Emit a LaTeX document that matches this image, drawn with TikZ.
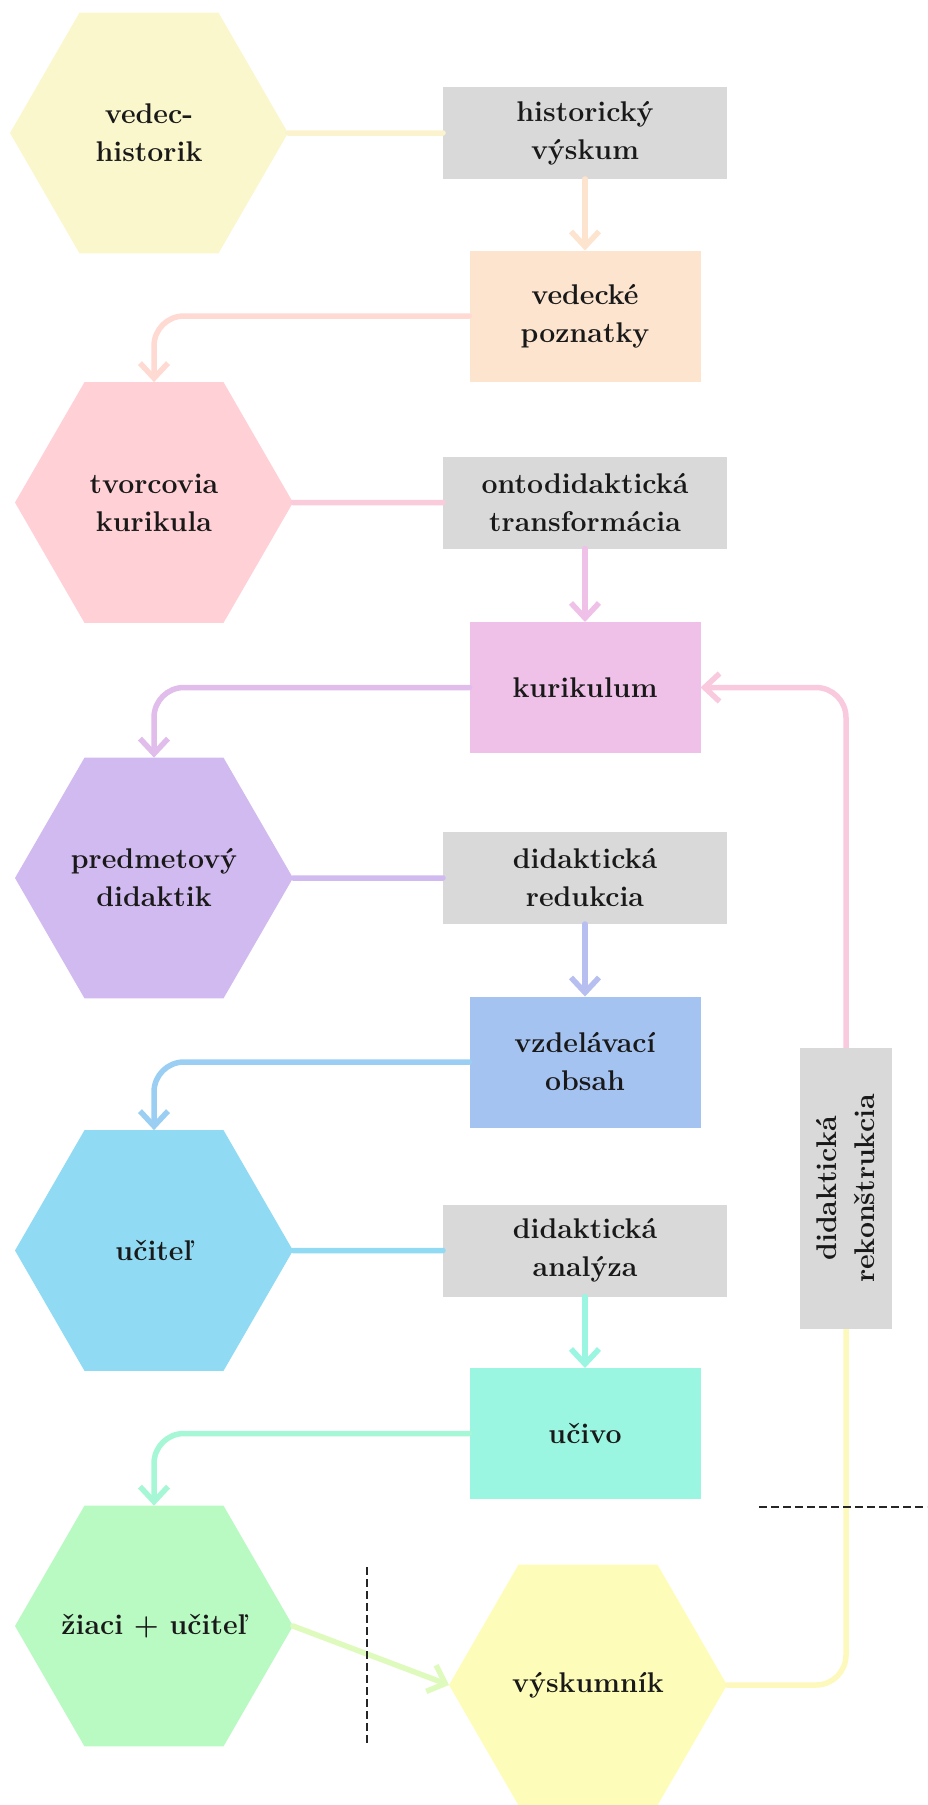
\documentclass[tikz,border=0pt]{standalone}
\usepackage{tikz}
\usetikzlibrary{arrows.meta,shapes.geometric}

\definecolor{greybox}{HTML}{D9D9D9}
\definecolor{hexyellow}{HTML}{FAF7CD}
\definecolor{hexrose}{HTML}{FFD0D5}
\definecolor{hexlilac}{HTML}{D1BAEF}
\definecolor{hexsky}{HTML}{90DAF4}
\definecolor{hexmint}{HTML}{B9F9C2}
\definecolor{hexlemon}{HTML}{FDFDB9}
\definecolor{boxpeach}{HTML}{FCE4CF}
\definecolor{boxorchid}{HTML}{EFC1E8}
\definecolor{boxblue}{HTML}{A5C3F1}
\definecolor{boxaqua}{HTML}{9AF5E1}

\tikzset{
  hexa/.style={regular polygon, regular polygon sides=6, minimum size=278pt,
    inner sep=-60pt, outer sep=0pt, fill=#1},
  greyblock/.style={rectangle, fill=greybox, minimum width=284pt,
    minimum height=92pt, inner sep=0pt, outer sep=0pt},
  colblock/.style={rectangle, fill=#1, minimum width=231pt,
    minimum height=131pt, inner sep=0pt, outer sep=0pt},
  link/.style={line width=5.5pt, draw=#1, line cap=round},
  arrowlink/.style={link=#1, -{Straight Barb[length=15pt,width=28pt]},
    rounded corners=30pt},
  cutline/.style={line width=2pt, dash pattern=on 8pt off 4pt, draw=black!85}
}

\begin{document}
\begin{tikzpicture}[x=1pt,y=-1pt,
  every node/.style={font=\bfseries\fontsize{28.5}{38}\selectfont,
    align=center, text=black!90}]

\useasboundingbox (0,0) rectangle (927,1805);

% left column
\node[hexa=hexyellow] (vedec) at (149,133) {vedec-\\historik};
\node[hexa=hexrose] (tvor) at (154,502.5) {tvorcovia\\kurikula};
\node[hexa=hexlilac] (pred) at (154,878) {predmetový\\didaktik};
\node[hexa=hexsky] (ucitel) at (154,1250.5) {učiteľ};
\node[hexa=hexmint] (ziaci) at (154,1626) {žiaci + učiteľ};
\node[hexa=hexlemon] (vysk) at (588,1685) {výskumník};

% middle column
\node[greyblock] (hist) at (585,133) {historický\\výskum};
\node[colblock=boxpeach] (pozn) at (585,316) {vedecké\\poznatky};
\node[greyblock] (onto) at (585,502.5) {ontodidaktická\\transformácia};
\node[colblock=boxorchid] (kuri) at (585,687.5) {kurikulum};
\node[greyblock] (redu) at (585,878) {didaktická\\redukcia};
\node[colblock=boxblue] (obsah) at (585,1062) {vzdelávací\\obsah};
\node[greyblock] (anal) at (585,1250.5) {didaktická\\analýza};
\node[colblock=boxaqua] (ucivo) at (585,1433.5) {učivo};

% links
\draw[link=hexyellow!80!boxpeach] (vedec.east) -- (hist.west);
\draw[arrowlink=boxpeach] (hist.south) -- (pozn.north);
\draw[arrowlink=boxpeach!50!hexrose] (pozn.west) -| (tvor.north);

\draw[link=hexrose!70!boxorchid] (tvor.east) -- (onto.west);
\draw[arrowlink=boxorchid] (onto.south) -- (kuri.north);
\draw[arrowlink=boxorchid!50!hexlilac] (kuri.west) -| (pred.north);

\draw[link=hexlilac] (pred.east) -- (redu.west);
\draw[arrowlink=hexlilac!40!boxblue] (redu.south) -- (obsah.north);
\draw[arrowlink=boxblue!50!hexsky] (obsah.west) -| (ucitel.north);

\draw[link=hexsky] (ucitel.east) -- (anal.west);
\draw[arrowlink=boxaqua] (anal.south) -- (ucivo.north);
\draw[arrowlink=boxaqua!60!hexmint] (ucivo.west) -| (ziaci.north);

\draw[arrowlink=hexmint!45!hexlemon] (ziaci.east) -- (vysk.west);

% reconstruction back to the curriculum
\draw[link=hexlemon!85!boxpeach, rounded corners=30pt] (vysk.east) -| (846,1329);
\draw[arrowlink=hexrose!60!boxorchid] (846,1048) |- (kuri.east);
\node[greyblock, rotate=90, minimum width=281pt, minimum height=92pt] (rek)
  at (846,1188.5) {didaktická\\rekonštrukcia};

% cut lines
\coordinate (vcutA) at (367,1567);
\coordinate (vcutB) at (367,1743);
\coordinate (hcutA) at (759,1507);
\coordinate (hcutB) at (927,1507);
\draw[cutline] (vcutA) -- (vcutB);
\draw[cutline] (hcutA) -- (hcutB);

\end{tikzpicture}
\end{document}
